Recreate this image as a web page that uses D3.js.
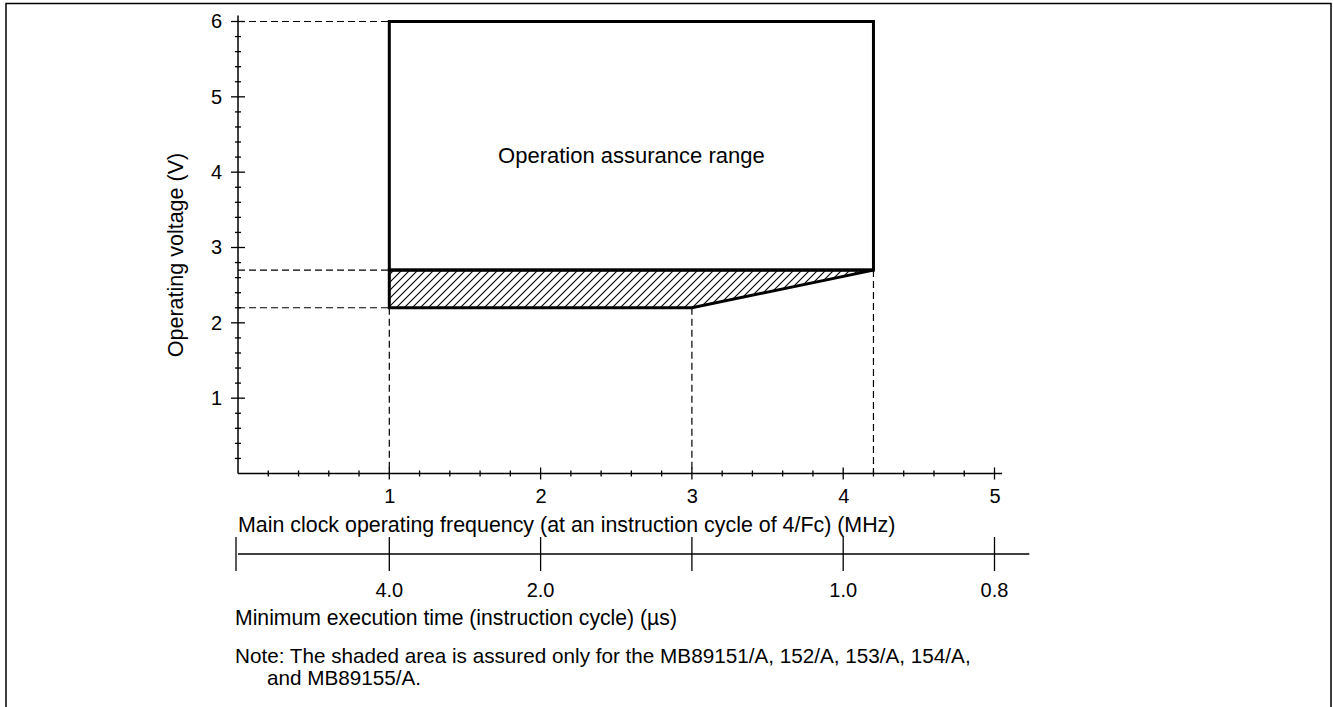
<!DOCTYPE html>
<html>
<head>
<meta charset="utf-8">
<script src="https://cdn.jsdelivr.net/npm/d3@7"></script>
<style>
  body { margin: 0; background: #fff; }
  svg { display: block; font-family: Arial, "Liberation Sans", sans-serif; }
</style>
</head>
<body>
<svg width="1333" height="707"></svg>
<script>
// frequency axis (MHz) and voltage axis (V)
var freqTicks = [1, 2, 3, 4, 5];
var voltTicks = [1, 2, 3, 4, 5, 6];
// minimum execution time (us) shown under each frequency tick
var execTimeLabels = ["4.0", "2.0", "", "1.0", "0.8"];

// operation assurance range (outline)
var assuredFreq = [1, 4.2];
var assuredVolt = [2.7, 6];
// shaded area, only for some parts
var shadedArea = [
  {f: 1,   v: 2.7},
  {f: 4.2, v: 2.7},
  {f: 3,   v: 2.2},
  {f: 1,   v: 2.2}
];
// dashed guide lines
var guideVolts = [{v: 6, f: 1}, {v: 2.7, f: 1}, {v: 2.2, f: 1}];
var guideFreqs = [{f: 1, v: 2.2}, {f: 3, v: 2.2}, {f: 4.2, v: 2.7}];

var svg = d3.select("svg");

var x = d3.scaleLinear().domain([0, 5]).range([238, 994.5]),
    y = d3.scaleLinear().domain([0, 6]).range([473.5, 21.5]);

// frame
svg.append("path")
    .attr("d", "M6,712V3.5H1331V712")
    .attr("fill", "none")
    .attr("stroke", "#000")
    .attr("stroke-width", 1.5);

// hatch pattern
var defs = svg.append("defs");
var pat = defs.append("pattern")
    .attr("id", "hatch")
    .attr("patternUnits", "userSpaceOnUse")
    .attr("width", 8)
    .attr("height", 8);
pat.append("path")
    .attr("d", "M-2,2L2,-2M0,8L8,0M6,10L10,6")
    .attr("stroke", "#000")
    .attr("stroke-width", 1.1);

var g = svg.append("g");

// dashed guides
g.selectAll(".hguide")
  .data(guideVolts)
  .enter().append("line")
    .attr("x1", x(0)).attr("x2", function(d) { return x(d.f); })
    .attr("y1", function(d) { return y(d.v); }).attr("y2", function(d) { return y(d.v); })
    .attr("stroke", "#000").attr("stroke-width", 1.2)
    .attr("stroke-dasharray", "7,4");

g.selectAll(".vguide")
  .data(guideFreqs)
  .enter().append("line")
    .attr("x1", function(d) { return x(d.f); }).attr("x2", function(d) { return x(d.f); })
    .attr("y1", function(d) { return y(d.v); }).attr("y2", y(0))
    .attr("stroke", "#000").attr("stroke-width", 1.2)
    .attr("stroke-dasharray", "7,4");

// shaded region
var area = d3.line()
    .x(function(d) { return x(d.f); })
    .y(function(d) { return y(d.v); });

g.append("path")
    .attr("d", area(shadedArea) + "Z")
    .attr("fill", "url(#hatch)")
    .attr("stroke", "#000")
    .attr("stroke-width", 3)
    .attr("stroke-linejoin", "miter");

// operation assurance range box
g.append("rect")
    .attr("x", x(assuredFreq[0]))
    .attr("y", y(assuredVolt[1]))
    .attr("width", x(assuredFreq[1]) - x(assuredFreq[0]))
    .attr("height", y(assuredVolt[0]) - y(assuredVolt[1]))
    .attr("fill", "none")
    .attr("stroke", "#000")
    .attr("stroke-width", 3);

g.append("text")
    .attr("x", x((assuredFreq[0] + assuredFreq[1]) / 2))
    .attr("y", y(4.22))
    .attr("dy", "0.35em")
    .attr("text-anchor", "middle")
    .style("font-size", "22px")
    .text("Operation assurance range");

// axes lines
g.append("line")
    .attr("x1", x(0)).attr("x2", x(5.05))
    .attr("y1", y(0)).attr("y2", y(0))
    .attr("stroke", "#000").attr("stroke-width", 1.5);
g.append("line")
    .attr("x1", x(0)).attr("x2", x(0))
    .attr("y1", y(0)).attr("y2", y(6.08))
    .attr("stroke", "#000").attr("stroke-width", 1.5);

function isMajor(d) { return Math.abs(d - Math.round(d)) < 1e-6; }

// x ticks
var xMinor = d3.range(1, 26).map(function(i) { return i * 0.2; });
g.selectAll(".xtick")
  .data(xMinor)
  .enter().append("line")
    .attr("x1", function(d) { return x(d); }).attr("x2", function(d) { return x(d); })
    .attr("y1", function(d) { return y(0) - (isMajor(d) ? 6 : 3); })
    .attr("y2", function(d) { return y(0) + (isMajor(d) ? 6 : 3); })
    .attr("stroke", "#000").attr("stroke-width", 1.3);

// y ticks
var yMinor = d3.range(1, 31).map(function(i) { return i * 0.2; });
g.selectAll(".ytick")
  .data(yMinor)
  .enter().append("line")
    .attr("y1", function(d) { return y(d); }).attr("y2", function(d) { return y(d); })
    .attr("x1", function(d) { return x(0) - (isMajor(d) ? 7 : 3); })
    .attr("x2", function(d) { return x(0) + (isMajor(d) ? 7 : 3); })
    .attr("stroke", "#000").attr("stroke-width", 1.3);

// tick labels
g.append("g")
    .attr("transform", "translate(0," + y(0) + ")")
    .call(d3.axisBottom(x).tickValues(freqTicks).tickFormat(d3.format("d")).tickSize(0).tickPadding(15))
    .call(function(a) {
      a.select(".domain").remove();
      a.attr("font-family", null).attr("font-size", null);
      a.selectAll("text").style("font-size", "20px");
    });

g.append("g")
    .attr("transform", "translate(" + x(0) + ",0)")
    .call(d3.axisLeft(y).tickValues(voltTicks).tickFormat(d3.format("d")).tickSize(0).tickPadding(16))
    .call(function(a) {
      a.select(".domain").remove();
      a.attr("font-family", null).attr("font-size", null);
      a.selectAll("text").style("font-size", "20px");
    });

// axis titles
g.append("text")
    .attr("x", x(0))
    .attr("y", 532)
    .style("font-size", "21.4px")
    .text("Main clock operating frequency (at an instruction cycle of 4/Fc) (MHz)");

g.append("text")
    .attr("transform", "translate(183," + y(2.9) + ") rotate(-90)")
    .attr("text-anchor", "middle")
    .style("font-size", "21.5px")
    .text("Operating voltage (V)");

// execution time scale
var ex = g.append("g").attr("transform", "translate(0,554)");
ex.append("line")
    .attr("x1", x(0)).attr("x2", x(5.23))
    .attr("stroke", "#000").attr("stroke-width", 1.3);
ex.selectAll(".etick")
  .data([0].concat(freqTicks))
  .enter().append("line")
    .attr("x1", function(d) { return d === 0 ? x(d) - 2 : x(d); })
    .attr("x2", function(d) { return d === 0 ? x(d) - 2 : x(d); })
    .attr("y1", -17).attr("y2", 17)
    .attr("stroke", "#000").attr("stroke-width", 1.3);
ex.selectAll(".elabel")
  .data(freqTicks)
  .enter().append("text")
    .attr("x", function(d) { return x(d); })
    .attr("y", 43)
    .attr("text-anchor", "middle")
    .style("font-size", "20px")
    .text(function(d, i) { return execTimeLabels[i]; });

g.append("text")
    .attr("x", 235)
    .attr("y", 625)
    .style("font-size", "21.2px")
    .text("Minimum execution time (instruction cycle) (\u00b5s)");

// note
g.append("text")
    .attr("x", 235)
    .attr("y", 663)
    .style("font-size", "20.7px")
    .text("Note: The shaded area is assured only for the MB89151/A, 152/A, 153/A, 154/A,");
g.append("text")
    .attr("x", 267)
    .attr("y", 685)
    .style("font-size", "20.7px")
    .text("and MB89155/A.");
</script>
</body>
</html>
